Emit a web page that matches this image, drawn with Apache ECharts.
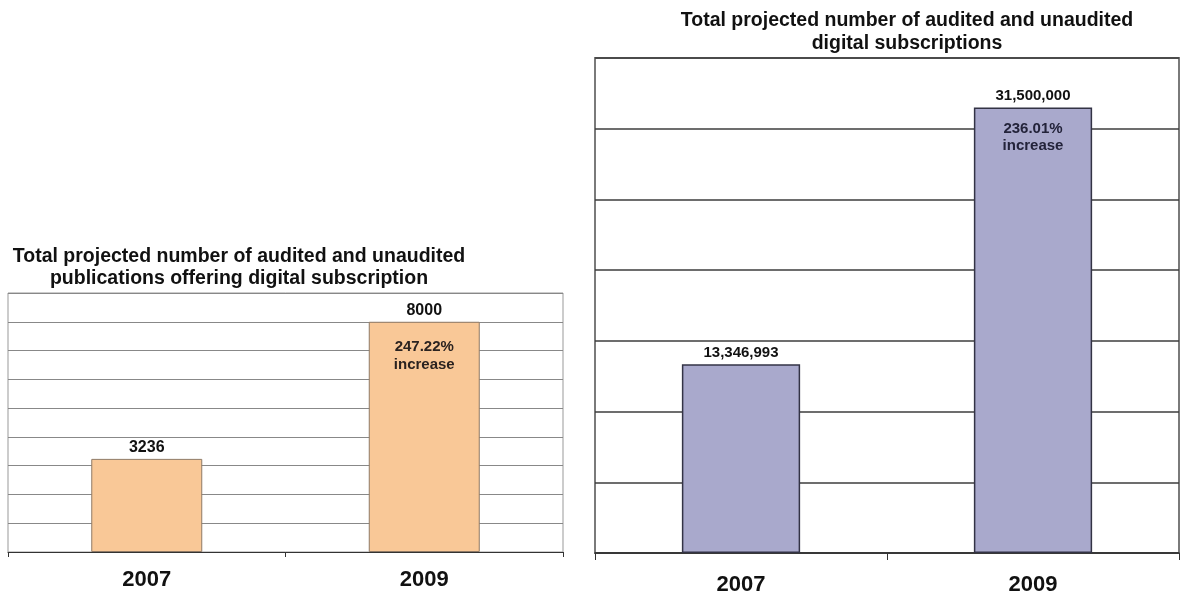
<!DOCTYPE html>
<html>
<head>
<meta charset="utf-8">
<script src="https://cdn.jsdelivr.net/npm/echarts@6/dist/echarts.min.js"></script>
<style>
html,body{margin:0;padding:0;background:#fff;}
#chart{width:1181px;height:596px;}
</style>
</head>
<body>
<div id="chart"></div>
<script>
// ---- data ----
var categories = ['2007', '2009'];
var publicationsValues = [3236, 8000];
var publicationsIncrease = ['', '247.22%\nincrease'];
var subscriptionsValues = [13346993, 31500000];
var subscriptionsIncrease = ['', '236.01%\nincrease'];
var leftTitle = 'Total projected number of audited and unaudited\npublications offering digital subscription';
var rightTitle = 'Total projected number of audited and unaudited\ndigital subscriptions';

var FONT = '"Liberation Sans", Arial, sans-serif';

function fmtComma(v) {
  return String(v).replace(/\B(?=(\d{3})+(?!\d))/g, ',');
}

var chart = echarts.init(document.getElementById('chart'), null, {renderer: 'canvas'});

var option = {
  backgroundColor: '#ffffff',
  animation: false,
  title: [
    {
      text: leftTitle,
      left: 234, top: 241, textAlign: 'center',
      textStyle: {fontFamily: FONT, fontSize: 19.5, fontWeight: 'bold', color: '#111', lineHeight: 21.5}
    },
    {
      text: rightTitle,
      left: 902, top: 4, textAlign: 'center',
      textStyle: {fontFamily: FONT, fontSize: 19.5, fontWeight: 'bold', color: '#111', lineHeight: 23}
    }
  ],
  grid: [
    {left: 8, right: 1181 - 563, top: 293, bottom: 596 - 552, show: true, borderColor: '#999', borderWidth: 1, containLabel: false},
    {left: 595, right: 1181 - 1179, top: 58, bottom: 39, show: true, borderColor: '#7a7a7a', borderWidth: 2, containLabel: false}
  ],
  xAxis: [
    {
      type: 'category', gridIndex: 0, data: categories,
      axisLine: {lineStyle: {color: '#333', width: 1}},
      axisTick: {show: true, length: 5, lineStyle: {color: '#333'}},
      axisLabel: {fontFamily: FONT, fontSize: 22, fontWeight: 'bold', color: '#111', margin: 17}
    },
    {
      type: 'category', gridIndex: 1, data: categories,
      axisLine: {lineStyle: {color: '#333', width: 1.5}},
      axisTick: {show: true, length: 7, lineStyle: {color: '#333'}},
      axisLabel: {fontFamily: FONT, fontSize: 22, fontWeight: 'bold', color: '#111', margin: 21}
    }
  ],
  yAxis: [
    {
      type: 'value', gridIndex: 0, min: 0, max: 9000, interval: 1000,
      axisLine: {show: false}, axisTick: {show: false}, axisLabel: {show: false},
      splitLine: {lineStyle: {color: '#888', width: 1.2}}
    },
    {
      type: 'value', gridIndex: 1, min: 0, max: 35000000, interval: 5000000,
      axisLine: {show: false}, axisTick: {show: false}, axisLabel: {show: false},
      splitLine: {lineStyle: {color: '#3c3c3c', width: 1.5}}
    }
  ],
  series: [
    {
      type: 'bar', xAxisIndex: 0, yAxisIndex: 0, data: publicationsValues,
      barWidth: '40%', barGap: '-100%',
      itemStyle: {color: '#F9C897', borderColor: '#8f7a66', borderWidth: 1},
      label: {
        show: true, position: 'top', distance: 3,
        fontFamily: FONT, fontSize: 16, fontWeight: 'bold', color: '#111',
        formatter: function (p) { return String(p.value); }
      },
      silent: true
    },
    {
      type: 'bar', xAxisIndex: 0, yAxisIndex: 0, data: publicationsValues,
      barWidth: '40%', barGap: '-100%',
      itemStyle: {color: 'rgba(0,0,0,0)'},
      label: {
        show: true, position: 'insideTop', distance: 16,
        fontFamily: FONT, fontSize: 15, fontWeight: 'bold', color: '#2b2320', lineHeight: 18,
        formatter: function (p) { return publicationsIncrease[p.dataIndex]; }
      },
      silent: true, z: 3
    },
    {
      type: 'bar', xAxisIndex: 1, yAxisIndex: 1, data: subscriptionsValues,
      barWidth: '40.5%', barGap: '-100%',
      itemStyle: {color: '#A9A9CC', borderColor: '#333345', borderWidth: 1.5},
      label: {
        show: true, position: 'top', distance: 4,
        fontFamily: FONT, fontSize: 15, fontWeight: 'bold', color: '#111',
        formatter: function (p) { return fmtComma(p.value); }
      },
      silent: true
    },
    {
      type: 'bar', xAxisIndex: 1, yAxisIndex: 1, data: subscriptionsValues,
      barWidth: '40.5%', barGap: '-100%',
      itemStyle: {color: 'rgba(0,0,0,0)'},
      label: {
        show: true, position: 'insideTop', distance: 13,
        fontFamily: FONT, fontSize: 15, fontWeight: 'bold', color: '#23233a', lineHeight: 17,
        formatter: function (p) { return subscriptionsIncrease[p.dataIndex]; }
      },
      silent: true, z: 3
    }
  ]
};
chart.setOption(option);
</script>
</body>
</html>
